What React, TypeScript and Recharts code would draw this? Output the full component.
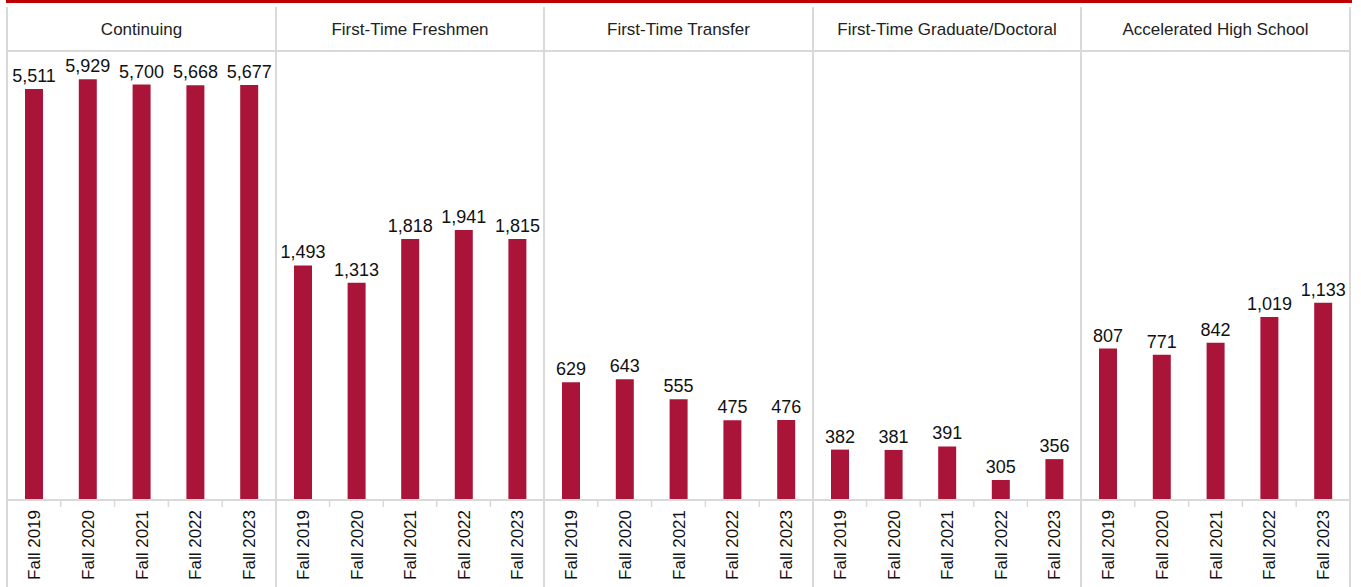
import { Bar, BarChart, LabelList, XAxis, YAxis } from "recharts"

const terms = ["Fall 2019", "Fall 2020", "Fall 2021", "Fall 2022", "Fall 2023"]
const groups = [
  "Continuing",
  "First-Time Freshmen",
  "First-Time Transfer",
  "First-Time Graduate/Doctoral",
  "Accelerated High School",
]
const continuing = [5511, 5929, 5700, 5668, 5677]
const freshmen = [1493, 1313, 1818, 1941, 1815]
const transfer = [629, 643, 555, 475, 476]
const graduate = [382, 381, 391, 305, 356]
const highSchool = [807, 771, 842, 1019, 1133]

const seriesByGroup = [continuing, freshmen, transfer, graduate, highSchool]

const BAR = "#ab1439"
const GRID = "#d9d9d9"
const FONT = "'Liberation Sans', Arial, sans-serif"

const LEFT = 7
const PANEL_W = 268.6
const HEADER_H = 52
const CHART_H = 535

function TermTick(props: any) {
  const { x, y, payload, index, band } = props
  return (
    <g transform={`translate(${x},${y})`}>
      {index < terms.length - 1 && (
        <line x1={band / 2} x2={band / 2} y1={-8} y2={-1} stroke={GRID} strokeWidth={1.5} />
      )}
      <text
        transform="rotate(-90)"
        x={-2}
        y={0}
        dy="0.36em"
        textAnchor="end"
        fill="#111"
        fontSize={17}
        fontFamily={FONT}
      >
        {payload.value}
      </text>
    </g>
  )
}

function Panel({ idx }: { idx: number }) {
  const values = seriesByGroup[idx]
  const data = terms.map((t, i) => ({ term: t, value: values[i] }))
  const left = Math.round(LEFT + idx * PANEL_W)
  const right = Math.round(LEFT + (idx + 1) * PANEL_W)
  const w = right - left
  return (
    <div style={{ position: "absolute", left, top: 7, width: w, height: 580 }}>
      <div
        style={{
          height: HEADER_H - 7,
          lineHeight: `${HEADER_H - 7}px`,
          textAlign: "center",
          fontFamily: FONT,
          fontSize: 17,
          color: "#222",
          borderBottom: `2px solid ${GRID}`,
          boxSizing: "border-box",
        }}
      >
        {groups[idx]}
      </div>
      <div style={{ position: "absolute", top: HEADER_H - 7, left: 0 }}>
        <BarChart
          width={w}
          height={CHART_H}
          data={data}
          margin={{ top: 0, right: 0, bottom: 0, left: 0 }}
          barSize={18}
        >
          <XAxis
            dataKey="term"
            height={87}
            interval={0}
            tickLine={false}
            axisLine={{ stroke: GRID, strokeWidth: 2 }}
            tick={<TermTick band={w / terms.length} />}
          />
          <YAxis hide scale="log" domain={[263, 7254]} allowDataOverflow />
          <Bar dataKey="value" fill={BAR} isAnimationActive={false}>
            <LabelList
              dataKey="value"
              position="top"
              offset={7}
              formatter={(v: any) => Number(v).toLocaleString("en-US")}
              fill="#111"
              fontSize={18}
              fontFamily={FONT}
            />
          </Bar>
        </BarChart>
      </div>
    </div>
  )
}

export default function App() {
  const lines = groups.map((_, i) => Math.round(LEFT + i * PANEL_W)).concat([Math.round(LEFT + 5 * PANEL_W)])
  return (
    <div style={{ position: "absolute", left: 0, top: 0, width: 1361, height: 587, background: "#fff", overflow: "hidden" }}>
      <div style={{ position: "absolute", left: 6, top: 0, width: 1346, height: 3, background: "#c00000" }} />
      {groups.map((_, i) => (
        <Panel key={i} idx={i} />
      ))}
      {lines.map((x, i) => (
        <div
          key={i}
          style={{ position: "absolute", left: x - 1, top: 7, width: 2, height: 580, background: GRID }}
        />
      ))}
    </div>
  )
}
